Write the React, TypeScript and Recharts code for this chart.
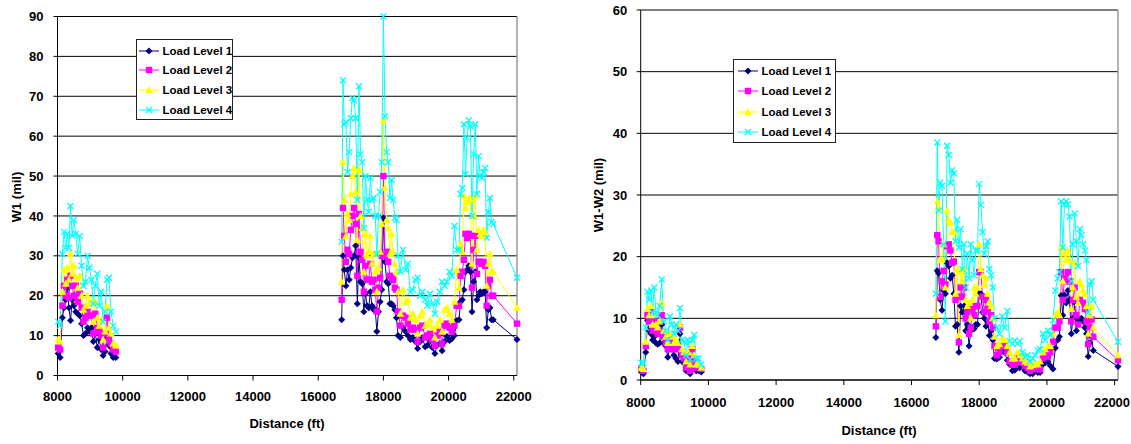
import { LineChart, Line, XAxis, YAxis, CartesianGrid, ReferenceLine, Legend } from "recharts"

const FONT = "'Liberation Sans', Arial, sans-serif"

// station of every test point (ft); the jump after 9790 is the untested stretch
const distance = [
  8020, 8080, 8150, 8200, 8250, 8300, 8350, 8400, 8450, 8500, 8560, 8620, 8680, 8740, 8800, 8860,
  8920, 8980, 9040, 9100, 9160, 9220, 9280, 9340, 9400, 9460, 9520, 9580, 9640, 9710, 9790,
  16720, 16760, 16800, 16850, 16900, 16950, 17000, 17050, 17100, 17150, 17200, 17250, 17300, 17350,
  17400, 17450, 17500, 17550, 17600, 17650, 17700, 17750, 17800, 17850, 17900, 17950, 18000, 18050,
  18100, 18150, 18200, 18250, 18300, 18350, 18400, 18450,
  18520, 18600, 18680, 18750, 18830, 18900, 18980, 19050, 19130, 19200, 19280, 19350, 19430, 19500,
  19580, 19650, 19730, 19800, 19880, 19950, 20030, 20100, 20180, 20250,
  20320, 20370, 20420, 20470, 20520, 20570, 20620, 20670, 20720, 20770, 20820, 20870, 20920, 20970,
  21020, 21070, 21120, 21170, 21220, 21270, 21320, 21370, 22100,
]

// W1 (mil)
const w1Level1 = [
  5.5, 4.5, 14.5, 17, 19, 22, 17, 13.8, 19, 17.5, 16, 15.5, 15, 13, 10, 10.5, 12, 11, 12, 8.5, 10.5, 7, 9, 6.5, 5, 6, 9.5, 7.5, 5.5, 4.5, 4.5,
  14, 30, 26.5, 22.5, 26.5, 24, 27, 29.5, 30, 32.5, 18, 29.5, 23.5, 23, 16, 20.5, 17.5, 17, 21, 17.5, 16.5, 16.5, 11, 16, 18.5, 21.5, 39.5, 28.5, 23.5, 23, 18, 18, 17.5, 16.5, 14.5, 10,
  9.5, 12, 11, 10, 9, 9.5, 8.5, 6.8, 8.5, 9.5, 7.2, 7.6, 8.7, 7, 5.5, 7.6, 8, 6.2, 8.5, 9.8, 8.8, 9.2, 10, 13.8,
  14, 18.5, 19, 21.5, 26, 26.5, 27.5, 26, 16, 23.5, 26, 19, 20, 21, 20.5, 21, 21, 12, 16.5, 17, 14, 14, 9,
]
const w1Level2 = [
  7, 6.5, 17.5, 22.5, 20, 24, 19.5, 25, 22.5, 20, 22.5, 18.5, 20.5, 17, 13.5, 14.5, 16, 15, 15, 10.5, 15.5, 12, 11, 10, 7, 10.5, 14.5, 9, 8, 6.5, 6,
  19, 42, 35, 28.5, 31.5, 30.5, 36.5, 40, 42, 38, 25, 40.5, 31, 29, 21, 27.5, 24, 24, 28, 23.5, 24, 21.5, 16, 22, 24.5, 30, 50, 30, 31, 28.5, 25, 24.5, 24, 22, 21.5, 16,
  12.5, 15, 14.5, 13, 11.5, 12, 11.5, 8.5, 12, 12.5, 9.5, 10, 10.5, 9, 7.5, 10, 11, 8, 12.5, 13, 12, 11, 12.5, 17.5,
  17.5, 25, 26, 29, 35.5, 34.5, 35.5, 35, 22, 31.5, 35, 25.5, 28.5, 28.5, 28, 28.5, 27.5, 17.5, 22.5, 24, 20, 20, 13,
]
const w1Level3 = [
  9, 8.5, 21, 26.5, 23, 27, 24, 30.5, 25.5, 27.5, 24.5, 22, 25, 20, 16.5, 17.5, 20, 18, 18.5, 13.5, 18.5, 14.5, 12.5, 14, 9, 11, 17.5, 12, 10.5, 8, 7.5,
  23.5, 53.5, 44, 35, 40.5, 39, 45.5, 50, 52, 46, 34, 51.5, 40, 37, 26, 35.5, 30, 31, 35, 28, 30.5, 26, 21, 27, 31, 38, 64, 47, 39, 37, 30.5, 35.5, 31, 28, 26, 21,
  15.5, 21.5, 18.5, 19, 14.5, 15.5, 14, 10.5, 15, 16, 12.5, 13, 14, 12, 9.5, 12.5, 14, 11, 16.5, 17, 15.5, 14, 18.5, 26.5,
  22, 33, 31, 45, 42, 43.5, 44.5, 44, 28, 40, 45, 31.5, 36.5, 35.5, 35, 36.5, 36, 22.5, 28, 30.5, 26, 26, 17,
]
const w1Level4 = [
  13.5, 12.5, 30.5, 36, 32, 35.5, 32, 42.5, 35, 39, 35.5, 30.5, 35, 27.5, 22.5, 23.5, 30, 27, 24, 18, 22.5, 25.5, 17.5, 21, 13.5, 16, 24, 24.5, 16, 12.5, 11,
  33.5, 74, 63, 63.5, 51, 56, 64.5, 69.5, 69, 64.5, 44, 72.5, 55.5, 53.5, 37, 50, 44, 41, 49.5, 44, 44.5, 40, 30.5, 40, 46, 53.5, 90, 65, 56, 53.5, 44.5, 49, 44, 39.5, 39, 30,
  26, 31.5, 26.5, 28, 21, 21.5, 24, 24.5, 20, 21, 19, 17.5, 20.5, 18, 15.5, 18.5, 21, 23.5, 22.5, 23.5, 26, 25, 37.5, 31.5,
  31.5, 45.5, 47, 63, 50.5, 59.5, 64, 62.5, 40, 55.5, 63, 45.5, 55, 50, 49.5, 51, 52, 34.5, 41, 44.5, 38.5, 38, 24.5,
]

// W1-W2 (mil)
const diffLevel1 = [
  1.3, 1, 4.5, 9.7, 8, 7.5, 6.5, 7, 6, 5.8, 6, 9, 6, 5.5, 3.7, 5.5, 5, 4, 3.5, 3, 7.5, 3, 2.8, 1.5, 2.5, 1, 3, 2, 1.5, 1.5, 1.3,
  6.9, 17.7, 17.3, 13, 11.3, 14.5, 14, 19, 18.5, 16.5, 17, 14, 8.7, 9, 4.5, 12, 11, 12, 8, 9, 5.5, 8, 8.5, 8.3, 9, 9, 14, 14, 11, 10, 8.7, 9.5, 7.2, 8, 6.5, 3.5,
  3.4, 3.7, 4.8, 4.5, 3.2, 2.5, 1.5, 1.6, 2, 2, 2.2, 1.5, 1.3, 1, 1, 1.5, 1.2, 1.2, 2.5, 2.8, 3, 2.3, 1.8, 5.2,
  6.5, 7, 13.7, 10.5, 13.8, 12.5, 14.5, 13, 7.5, 10, 12.5, 8, 9.5, 9.8, 10, 9.5, 8.5, 7.5, 3.8, 6, 7, 4.8, 2.2,
]
const diffLevel2 = [
  1.8, 1.5, 5.5, 10.5, 9.5, 11, 8, 9.5, 8, 7.5, 8, 10.5, 7, 6, 5, 6.5, 6, 5, 6, 5, 8.5, 4, 3.5, 2, 3.5, 1.5, 5, 3, 2, 2, 1.8,
  8.7, 23.5, 22.5, 13.5, 16, 17.7, 15.5, 21.7, 22, 21, 19, 19.2, 13, 13.5, 6.1, 15, 13.5, 15, 10, 11, 7.5, 8.5, 11.5, 10.5, 12, 12, 17.5, 17.5, 13.5, 11, 13, 11.5, 9.5, 10.5, 8.5, 5.5,
  4, 4.5, 5.5, 5.5, 4.5, 3, 2.5, 2.5, 3.5, 3, 2.8, 2.3, 2, 1.5, 1.8, 2, 1.8, 1.7, 3.5, 4, 3.8, 4.5, 6.2, 8.5,
  8.5, 9.5, 17.5, 13, 16.5, 16, 17.5, 16, 9.5, 13, 15, 10.5, 9, 13, 12.5, 12.5, 11.5, 9.5, 5.8, 8.5, 9.8, 7, 3.2,
]
const diffLevel3 = [
  2, 1.8, 6.2, 11.5, 10.5, 12, 9, 11, 9, 8.5, 9.5, 12.5, 8, 7, 6, 7.5, 7, 6, 6.5, 6, 9, 5, 4.5, 3, 4.5, 2.5, 5.5, 4, 2.5, 2.5, 2,
  10.5, 29, 28, 19.5, 19.5, 22, 15, 27.5, 26, 25.5, 24, 24, 14, 18, 7.3, 17.5, 16, 18, 13, 12, 12.5, 10, 13, 15, 14, 15, 22, 18, 17, 15.5, 16.5, 14, 12.7, 12, 10, 7,
  5.5, 5.8, 6.8, 6.5, 5.5, 4.5, 3.5, 3.5, 4.5, 4, 3.5, 3, 2.8, 2.2, 2.4, 2.8, 2.5, 3, 4.5, 5, 5.5, 5.5, 7.5, 10.5,
  11, 10.5, 21.5, 16, 20.5, 19.5, 21, 19.5, 11.5, 15, 19, 13.5, 12.5, 16, 15.5, 14.5, 14, 12, 7.5, 10.5, 12, 8.5, 4,
]
const diffLevel4 = [
  2.8, 2.8, 8.5, 14.3, 13, 14.5, 11, 15, 11, 10.5, 12, 16.3, 9.5, 8, 6.5, 10.3, 9, 7.5, 9, 8, 11.7, 6.5, 6.2, 4, 6.5, 3.3, 6.5, 7.3, 3.5, 3.5, 2.5,
  14, 38.5, 27.5, 32, 31.5, 22, 9.5, 38, 36.5, 32, 34, 33.5, 22.5, 26, 21.5, 24.5, 18, 22, 15, 20.5, 16.5, 22, 19.5, 17, 21, 21, 31.8, 28.4, 24, 20.5, 21.7, 22.5, 18, 17, 15, 10,
  8.5, 7.5, 10.3, 8.5, 11.2, 6.3, 5.9, 6.4, 5.9, 6.3, 4.5, 3.7, 4, 3, 3.5, 4, 4.8, 5, 7.5, 6.5, 8, 7.3, 9.7, 14.5,
  16.5, 17.5, 29, 21.5, 28.5, 29, 28.5, 26.5, 16, 22, 27, 22.5, 18.5, 24.5, 23.5, 22, 21, 19.5, 11, 15.5, 16, 13, 6.2,
]

const distanceTicks = [8000, 10000, 12000, 14000, 16000, 18000, 20000, 22000]
const w1Ticks = [0, 10, 20, 30, 40, 50, 60, 70, 80, 90]
const diffTicks = [0, 10, 20, 30, 40, 50, 60]

const levels = [
  { key: "l1", name: "Load Level 1", color: "#000080", shape: "diamond" },
  { key: "l2", name: "Load Level 2", color: "#FF00FF", shape: "square" },
  { key: "l3", name: "Load Level 3", color: "#FFFF00", shape: "triangle" },
  { key: "l4", name: "Load Level 4", color: "#00FFFF", shape: "cross" },
]

function buildRows(series: number[][]) {
  const rows: any[] = []
  distance.forEach((x, i) => {
    // break the lines across the untested gap
    if (i > 0 && x - distance[i - 1] > 3000) {
      rows.push({ x: (x + distance[i - 1]) / 2, l1: null, l2: null, l3: null, l4: null })
    }
    rows.push({ x, l1: series[0][i], l2: series[1][i], l3: series[2][i], l4: series[3][i] })
  })
  return rows
}

function Marker({ cx, cy, shape, color }: any) {
  if (shape === "diamond")
    return <path d={`M${cx},${cy - 3.5}L${cx + 3.5},${cy}L${cx},${cy + 3.5}L${cx - 3.5},${cy}Z`} fill={color} />
  if (shape === "square") return <rect x={cx - 3.2} y={cy - 3.2} width={6.4} height={6.4} fill={color} />
  if (shape === "triangle")
    return <path d={`M${cx},${cy - 4}L${cx + 3.8},${cy + 3}L${cx - 3.8},${cy + 3}Z`} fill={color} />
  return (
    <path
      d={`M${cx - 3},${cy - 3}L${cx + 3},${cy + 3}M${cx - 3},${cy + 3}L${cx + 3},${cy - 3}`}
      stroke={color}
      strokeWidth={1.3}
      fill="none"
    />
  )
}

function LegendBox({ rowHeight, padLeft }: any) {
  return (
    <div style={{ border: "1px solid #222", background: "#fff", paddingLeft: padLeft, paddingTop: 1 }}>
      {levels.map((lv) => (
        <div key={lv.key} style={{ display: "flex", alignItems: "center", height: rowHeight }}>
          <svg width={20} height={10} style={{ overflow: "visible" }}>
            <line x1={0} y1={5} x2={20} y2={5} stroke={lv.color} strokeWidth={1} />
            <Marker cx={10} cy={5} shape={lv.shape} color={lv.color} />
          </svg>
          <span style={{ marginLeft: 3.5, fontSize: 11.5, fontWeight: 700, fontFamily: FONT, color: "#000", whiteSpace: "nowrap" }}>
            {lv.name}
          </span>
        </div>
      ))}
    </div>
  )
}

const tickStyle = { fontSize: 13, fontWeight: 700, fill: "#000", fontFamily: FONT }
const titleStyle: any = { position: "absolute", fontSize: 13, fontWeight: 700, fontFamily: FONT, whiteSpace: "nowrap" }

// x tick label that never runs past the right edge of its panel
function DistanceTick({ x, y, payload, maxX }: any) {
  const halfWidth = 18
  const cx = Math.min(x, maxX - halfWidth)
  return (
    <text x={cx} y={y} dy="0.71em" textAnchor="middle" {...tickStyle}>
      {payload.value}
    </text>
  )
}

function Panel(props: any) {
  const { left, width, height, margin, yAxisWidth, yMax, yTicks, series, yTickMargin, xTickMargin, legend } = props
  const rows = buildRows(series)
  return (
    <div style={{ position: "absolute", left, top: 0, width, height }}>
      <LineChart width={width} height={height} data={rows} margin={margin}>
        <CartesianGrid horizontal vertical={false} stroke="#000" strokeWidth={1} />
        <XAxis
          type="number"
          dataKey="x"
          domain={[8000, 22100]}
          ticks={distanceTicks}
          interval={0}
          height={30}
          tickSize={5}
          tickMargin={xTickMargin}
          tick={<DistanceTick maxX={width - 1} />}
          axisLine={{ stroke: "#000" }}
          tickLine={{ stroke: "#000" }}
        />
        <YAxis
          type="number"
          domain={[0, yMax]}
          ticks={yTicks}
          interval={0}
          width={yAxisWidth}
          tickSize={4}
          tickMargin={yTickMargin}
          tick={tickStyle}
          axisLine={{ stroke: "#000" }}
          tickLine={{ stroke: "#000" }}
        />
        <ReferenceLine x={22100} stroke="#9a9a9a" strokeWidth={1.5} />
        {levels.map((lv) => (
          <Line
            key={lv.key}
            type="linear"
            dataKey={lv.key}
            name={lv.name}
            stroke={lv.color}
            strokeWidth={1}
            connectNulls={false}
            isAnimationActive={false}
            activeDot={false}
            dot={(p: any) =>
              p.cx == null || p.cy == null || p.value == null ? (
                <g key={`${lv.key}-${p.index}`} />
              ) : (
                <Marker key={`${lv.key}-${p.index}`} cx={p.cx} cy={p.cy} shape={lv.shape} color={lv.color} />
              )
            }
          />
        ))}
        <Legend
          layout="vertical"
          align="center"
          verticalAlign="middle"
          wrapperStyle={{ left: legend.left, top: legend.top, width: legend.width, height: legend.height }}
          content={() => <LegendBox rowHeight={legend.row} padLeft={legend.pad} />}
        />
      </LineChart>
    </div>
  )
}

export default function App() {
  return (
    <div style={{ position: "absolute", left: 0, top: 0, width: 1131, height: 444, background: "#fff" }}>
      <Panel
        left={0}
        width={560}
        height={444}
        margin={{ top: 16.5, right: 43, left: 0, bottom: 38.5 }}
        yAxisWidth={57.5}
        yMax={90}
        yTicks={w1Ticks}
        yTickMargin={10}
        xTickMargin={11}
        series={[w1Level1, w1Level2, w1Level3, w1Level4]}
        legend={{ left: 136, top: 39, width: 97, height: 80, row: 19.6, pad: 2 }}
      />
      <div style={{ ...titleStyle, left: 16, top: 197, transform: "translate(-50%, -50%) rotate(-90deg)" }}>W1 (mil)</div>
      <div style={{ ...titleStyle, left: 287, top: 423, transform: "translate(-50%, -50%)" }}>Distance (ft)</div>

      <Panel
        left={570}
        width={561}
        height={444}
        margin={{ top: 10, right: 13, left: 0, bottom: 34 }}
        yAxisWidth={70.7}
        yMax={60}
        yTicks={diffTicks}
        yTickMargin={9.5}
        xTickMargin={12.5}
        series={[diffLevel1, diffLevel2, diffLevel3, diffLevel4]}
        legend={{ left: 163, top: 59, width: 103, height: 83, row: 20.3, pad: 4 }}
      />
      <div style={{ ...titleStyle, left: 598, top: 195, transform: "translate(-50%, -50%) rotate(-90deg)" }}>W1-W2 (mil)</div>
      <div style={{ ...titleStyle, left: 879, top: 430, transform: "translate(-50%, -50%)" }}>Distance (ft)</div>
    </div>
  )
}
